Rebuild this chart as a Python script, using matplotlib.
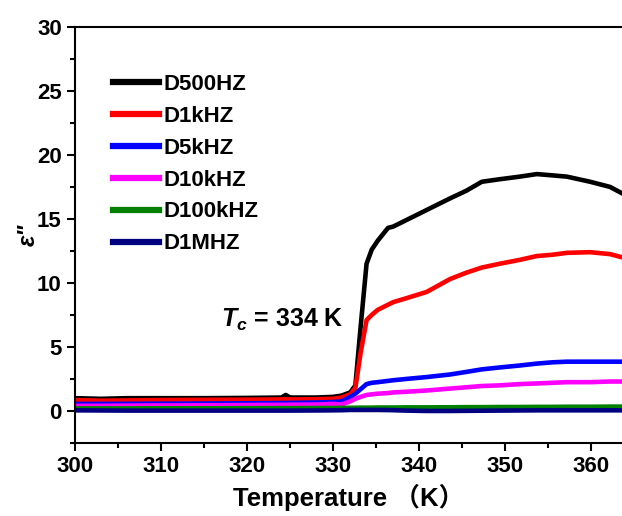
import matplotlib
matplotlib.use('Agg')
import matplotlib.pyplot as plt
from matplotlib.ticker import MultipleLocator

plt.rcParams['font.family'] = ['Liberation Sans', 'DejaVu Sans']
plt.rcParams['font.weight'] = 'bold'
plt.rcParams['mathtext.fontset'] = 'custom'
plt.rcParams['mathtext.it'] = 'Liberation Sans:italic:bold'
plt.rcParams['mathtext.rm'] = 'Liberation Sans:bold'

# 温度点 (K)
temperature = [300, 303, 306, 310, 315, 320, 324, 324.5, 325, 328, 330, 331, 332, 332.6,
               333.2, 333.9, 334.5, 335.2, 336.4, 337, 338.5, 340.9, 343.6, 345.5, 347.3,
               349.4, 351.7, 353.7, 355.5, 357.2, 359.9, 362.2, 363.6]

d500hz = [1.0, 0.95, 1.0, 1.0, 1.0, 1.02, 1.05, 1.25, 1.05, 1.05, 1.1, 1.2, 1.45, 2.0,
          6.5, 11.5, 12.6, 13.3, 14.3, 14.4, 14.9, 15.7, 16.6, 17.2, 17.9,
          18.1, 18.3, 18.5, 18.4, 18.3, 17.9, 17.5, 17.0]
d1khz = [0.85, 0.8, 0.82, 0.85, 0.87, 0.88, 0.9, 0.92, 0.9, 0.92, 0.95, 1.05, 1.3, 1.8,
         4.5, 7.1, 7.5, 7.9, 8.3, 8.5, 8.8, 9.3, 10.3, 10.8, 11.2,
         11.5, 11.8, 12.1, 12.2, 12.35, 12.4, 12.25, 12.0]
d5khz = [0.55, 0.55, 0.56, 0.57, 0.58, 0.6, 0.62, 0.62, 0.63, 0.66, 0.7, 0.75, 1.1, 1.35,
         1.7, 2.1, 2.2, 2.25, 2.35, 2.4, 2.5, 2.65, 2.85, 3.05, 3.25,
         3.4, 3.55, 3.7, 3.8, 3.85, 3.85, 3.85, 3.85]
d10khz = [0.4, 0.4, 0.42, 0.43, 0.44, 0.46, 0.48, 0.48, 0.49, 0.5, 0.55, 0.5, 0.75, 0.95,
          1.1, 1.25, 1.3, 1.35, 1.4, 1.45, 1.5, 1.6, 1.75, 1.85, 1.95,
          2.0, 2.1, 2.15, 2.2, 2.25, 2.25, 2.3, 2.3]
d100khz = [0.2, 0.2, 0.2, 0.21, 0.21, 0.22, 0.22, 0.22, 0.22, 0.23, 0.23, 0.24, 0.25, 0.25,
           0.26, 0.26, 0.26, 0.27, 0.27, 0.27, 0.28, 0.28, 0.29, 0.3, 0.3,
           0.31, 0.31, 0.32, 0.32, 0.33, 0.33, 0.34, 0.34]
d1mhz = [0.05, 0.04, 0.03, 0.03, 0.03, 0.03, 0.03, 0.03, 0.03, 0.04, 0.05, 0.06, 0.08, 0.08,
         0.08, 0.08, 0.08, 0.08, 0.07, 0.06, 0.03, 0.0, 0.0, 0.01, 0.02,
         0.03, 0.04, 0.05, 0.05, 0.05, 0.05, 0.05, 0.05]

labels = ['D500HZ', 'D1kHZ', 'D5kHZ', 'D10kHZ', 'D100kHZ', 'D1MHZ']
colors = ['#000000', '#ff0000', '#0000ff', '#ff00ff', '#008000', '#000080']


def main():
    series = [d500hz, d1khz, d5khz, d10khz, d100khz, d1mhz]

    fig = plt.figure(figsize=(6.22, 5.16), dpi=100)
    ax = fig.add_axes([0.1206, 0.1415, 0.8794, 0.8065])

    for values, label, color in zip(series, labels, colors):
        ax.plot(temperature, values, color=color, linewidth=3.3, label=label)

    ax.set_xlim(300, 363.6)
    ax.set_ylim(-2.5, 30)
    ax.xaxis.set_major_locator(MultipleLocator(10))
    ax.xaxis.set_minor_locator(MultipleLocator(5))
    ax.yaxis.set_major_locator(MultipleLocator(5))
    ax.yaxis.set_minor_locator(MultipleLocator(2.5))
    ax.tick_params(which='major', direction='out', length=6, width=1.5, labelsize=16)
    ax.tick_params(which='minor', direction='out', length=3.5, width=1.5)
    ax.spines['right'].set_visible(False)
    for s in ['left', 'bottom', 'top']:
        ax.spines[s].set_linewidth(1.5)
    for lbl in ax.get_xticklabels() + ax.get_yticklabels():
        lbl.set_fontweight('bold')

    ax.set_xlabel('Temperature （K）', fontsize=18.5, fontweight='bold',
                  family=['Liberation Sans', 'Noto Sans CJK SC'], labelpad=5)
    ax.set_ylabel('ε"', fontsize=17, fontweight='bold', fontstyle='italic', labelpad=-2)

    ax.text(317.0, 7.1, r'$T_c$ = 334 K', fontsize=18, fontweight='bold', va='center')

    leg = ax.legend(loc='upper left', bbox_to_anchor=(0.032, 0.935), frameon=False,
                    handlelength=2.1, handletextpad=0.2, labelspacing=0.49,
                    prop={'weight': 'bold', 'size': 16})
    for line in leg.get_lines():
        line.set_linewidth(4.5)

    plt.savefig('out.png', dpi=100)


if __name__ == '__main__':
    main()
